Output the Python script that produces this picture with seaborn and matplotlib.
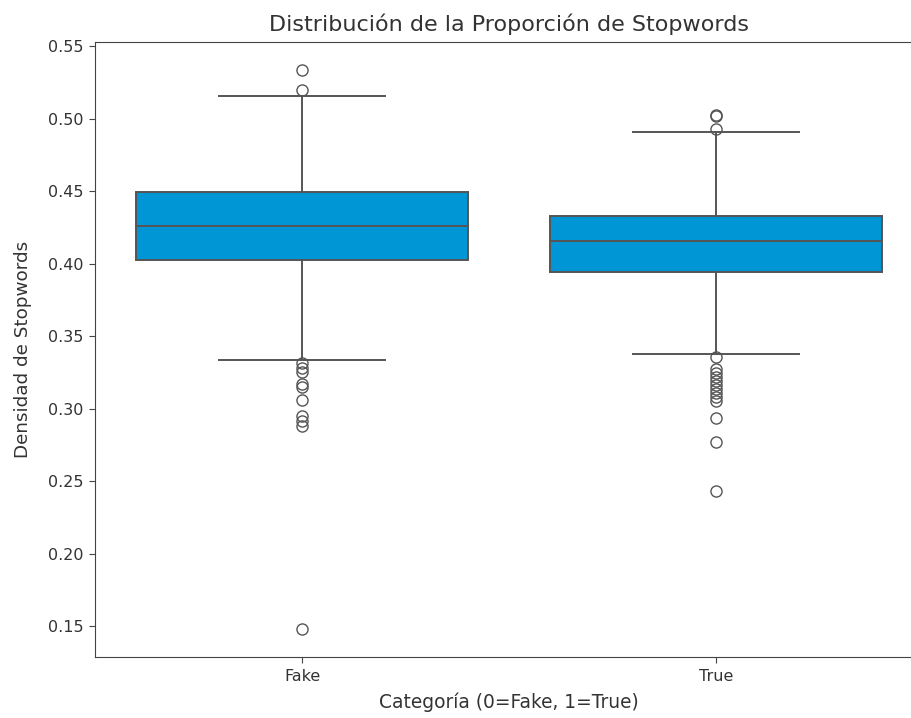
import numpy as np
import pandas as pd
import matplotlib
matplotlib.use("Agg")
import matplotlib.pyplot as plt
import seaborn as sns

# Box summaries per category: quartiles, whisker ends and outlying observations
categories = ["Fake", "True"]
q1 = [0.4023, 0.3945]
median = [0.4262, 0.4159]
q3 = [0.4491, 0.4330]
whisker_low = [0.3338, 0.3375]
whisker_high = [0.5156, 0.4906]
outliers_fake = [0.5335, 0.5200, 0.3311, 0.3283, 0.3249, 0.3169, 0.3146,
                 0.3058, 0.2950, 0.2916, 0.2882, 0.1480]
outliers_true = [0.5025, 0.5015, 0.4927, 0.3356, 0.3272, 0.3244, 0.3217,
                 0.3189, 0.3162, 0.3134, 0.3107, 0.3079, 0.3054, 0.2933,
                 0.2767, 0.2435]
outliers = [outliers_fake, outliers_true]

# Expand each summary into a sample whose quartiles and whiskers reproduce it
rows = []
for i, cat in enumerate(categories):
    values = ([whisker_low[i], whisker_high[i]] + [q1[i]] * 100 +
              [median[i]] * 12 + [q3[i]] * 100 + outliers[i])
    rows += [(cat, v) for v in values]
df = pd.DataFrame(rows, columns=["label", "stopword_ratio"])

text_color = "#333333"
plt.rcParams.update({
    "font.size": 11.5,
    "text.color": text_color,
    "axes.labelcolor": text_color,
    "xtick.color": "#444444",
    "ytick.color": "#444444",
    "xtick.labelcolor": text_color,
    "ytick.labelcolor": text_color,
    "axes.edgecolor": "#444444",
    "xtick.major.size": 4,
    "ytick.major.size": 4,
    "xtick.major.pad": 4.5,
    "ytick.major.pad": 4.5,
})

fig = plt.figure(figsize=(9.12, 7.18), dpi=100)
ax = fig.add_axes([95 / 912, (718 - 657) / 718, 828 / 912, (657 - 42) / 718])

sns.boxplot(data=df, x="label", y="stopword_ratio", order=categories,
            color="#0096D6", saturation=1, width=0.8, fliersize=8,
            linecolor="#555555", linewidth=1.4, ax=ax)

ax.spines["right"].set_visible(False)
ax.set_title("Distribución de la Proporción de Stopwords", fontsize=16, pad=8)
ax.set_xlabel("Categoría (0=Fake, 1=True)", fontsize=13.4, labelpad=6)
ax.set_ylabel("Densidad de Stopwords", fontsize=13.2, labelpad=11)

fig.savefig("out.png", dpi=100)
